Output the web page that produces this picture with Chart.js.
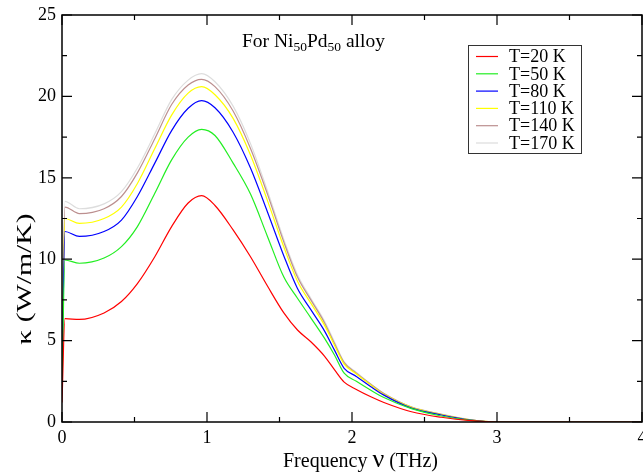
<!DOCTYPE html>
<html>
<head>
<meta charset="utf-8">
<script src="https://cdn.jsdelivr.net/npm/chart.js@4"></script>
<style>
  html, body { margin: 0; padding: 0; background: #fff; }
  #wrap { width: 643px; height: 472px; }
</style>
</head>
<body>
<div id="wrap"><canvas id="kappaChart"></canvas></div>
<script>
// frequency grid (THz)
const freq = [0, 0.02, 0.12, 0.29, 0.41, 0.52, 0.64, 0.756, 0.87, 0.963, 1.055, 1.18, 1.3, 1.417, 1.53, 1.624, 1.716, 1.81, 1.88, 1.946, 2.03, 2.13, 2.22, 2.41, 2.616, 2.82, 3.0, 4.0];

const kT20  = [1.2, 6.35, 6.3, 6.7, 7.4, 8.5, 10.15, 12.0, 13.45, 13.9, 13.3, 11.8, 10.15, 8.35, 6.7, 5.65, 4.93, 4.05, 3.2, 2.45, 2.0, 1.55, 1.2, 0.63, 0.29, 0.08, 0, 0];
const kT50  = [2.0, 9.95, 9.75, 10.07, 10.77, 12.0, 14.05, 16.1, 17.5, 17.98, 17.6, 15.9, 14.0, 11.4, 8.9, 7.6, 6.4, 5.15, 4.1, 3.0, 2.5, 1.95, 1.5, 0.82, 0.37, 0.1, 0, 0];
const kT80  = [2.5, 11.7, 11.4, 11.7, 12.4, 13.85, 15.9, 17.9, 19.27, 19.74, 19.3, 17.8, 15.6, 12.9, 10.2, 8.2, 6.9, 5.6, 4.4, 3.3, 2.8, 2.17, 1.65, 0.85, 0.43, 0.12, 0, 0];
const kT110 = [2.8, 12.5, 12.2, 12.5, 13.2, 14.65, 16.8, 18.85, 20.2, 20.6, 20.1, 18.65, 16.4, 13.6, 10.75, 8.65, 7.3, 5.95, 4.7, 3.55, 2.95, 2.27, 1.7, 0.9, 0.46, 0.13, 0, 0];
const kT140 = [3.0, 13.2, 12.8, 13.1, 13.85, 15.3, 17.4, 19.5, 20.7, 21.05, 20.6, 19.1, 16.8, 14.0, 11.05, 8.9, 7.5, 6.1, 4.8, 3.65, 3.0, 2.32, 1.75, 0.92, 0.47, 0.13, 0, 0];
const kT170 = [3.2, 13.55, 13.1, 13.4, 14.15, 15.6, 17.7, 19.8, 21.0, 21.4, 20.9, 19.4, 17.1, 14.2, 11.2, 9.05, 7.6, 6.2, 4.9, 3.7, 3.05, 2.32, 1.75, 0.93, 0.48, 0.14, 0, 0];

const seriesLabels = ['T=20 K', 'T=50 K', 'T=80 K', 'T=110 K', 'T=140 K', 'T=170 K'];
const seriesValues = [kT20, kT50, kT80, kT110, kT140, kT170];
const seriesColors = ['#ff0000', '#22ee22', '#0000ff', '#ffff00', '#bc8f8f', '#dddddd'];

const xTicks = [0, 1, 2, 3, 4];
const yTicks = [0, 5, 10, 15, 20, 25];

const SERIF = "'Liberation Serif', 'DejaVu Serif', serif";

// frame + inward ticks on all four sides, then the texts and the boxed legend
const framePlugin = {
    id: 'frame',
    afterDatasetsDraw(chart) {
        const { ctx, chartArea: a, scales } = chart;
        const xs = scales.x, ys = scales.y;
        ctx.save();
        ctx.strokeStyle = '#000';
        ctx.lineWidth = 1.5;
        ctx.strokeRect(a.left, a.top, a.right - a.left, a.bottom - a.top);
        ctx.lineWidth = 1.2;
        ctx.beginPath();
        for (let v = 0; v <= 4.001; v += 0.5) {
            const px = xs.getPixelForValue(v);
            const len = Math.abs(v - Math.round(v)) < 1e-6 ? 10 : 5;
            ctx.moveTo(px, a.bottom); ctx.lineTo(px, a.bottom - len);
            ctx.moveTo(px, a.top); ctx.lineTo(px, a.top + len);
        }
        for (let v = 0; v <= 25.001; v += 2.5) {
            const py = ys.getPixelForValue(v);
            const len = Math.abs(v / 5 - Math.round(v / 5)) < 1e-6 ? 10 : 5;
            ctx.moveTo(a.left, py); ctx.lineTo(a.left + len, py);
            ctx.moveTo(a.right, py); ctx.lineTo(a.right - len, py);
        }
        ctx.stroke();
        ctx.restore();
    },
    afterDraw(chart) {
        const { ctx } = chart;
        ctx.save();
        ctx.fillStyle = '#000';
        ctx.textBaseline = 'alphabetic';
        ctx.textAlign = 'left';

        // title with subscripts
        let x = 242;
        const by = 47;
        [['For Ni', 19.5, 0], ['50', 13.5, 4], ['Pd', 19.5, 0], ['50', 13.5, 4], [' alloy', 19.5, 0]].forEach(([t, s, dy]) => {
            ctx.font = s + 'px ' + SERIF;
            ctx.fillText(t, x, by + dy);
            x += ctx.measureText(t).width;
        });

        // x axis title
        x = 283;
        const xb = 467;
        [['Frequency ', 20], ['\u03bd', 26], [' (THz)', 20]].forEach(([t, s]) => {
            ctx.font = s + 'px ' + SERIF;
            ctx.fillText(t, x, xb);
            x += ctx.measureText(t).width;
        });

        // y axis title, a little stretched to the length seen in the picture
        ctx.translate(31, 279);
        ctx.rotate(-Math.PI / 2);
        ctx.font = '22px ' + SERIF;
        ctx.textAlign = 'center';
        const yTitle = '\u03ba (W/m/K)';
        const w = ctx.measureText(yTitle).width;
        ctx.scale(Math.min(1.35, 142 / w), 1);
        ctx.fillText(yTitle, 0, 0);
        ctx.restore();

        // legend box
        ctx.save();
        ctx.fillStyle = '#fff';
        ctx.fillRect(468, 45, 113, 108);
        ctx.strokeStyle = '#333';
        ctx.lineWidth = 1;
        ctx.strokeRect(468.5, 45.5, 113, 108);
        ctx.font = '18px ' + SERIF;
        ctx.textBaseline = 'middle';
        ctx.textAlign = 'left';
        chart.data.datasets.forEach((ds, i) => {
            const yy = 56.5 + i * 17.3;
            ctx.strokeStyle = ds.borderColor;
            ctx.lineWidth = 1.2;
            ctx.beginPath();
            ctx.moveTo(476, yy); ctx.lineTo(498, yy);
            ctx.stroke();
            ctx.fillStyle = '#000';
            ctx.fillText(ds.label, 509, yy + 1);
        });
        ctx.restore();
    }
};

function buildDatasets() {
    return seriesLabels.map((label, i) => ({
        label: label,
        data: freq.map((f, j) => ({ x: f, y: seriesValues[i][j] })),
        borderColor: seriesColors[i],
        borderWidth: 1.2,
        pointRadius: 0,
        fill: false,
        cubicInterpolationMode: 'monotone'
    }));
}

document.addEventListener('DOMContentLoaded', () => {
    new Chart(document.getElementById('kappaChart'), {
        type: 'line',
        data: { datasets: buildDatasets() },
        options: {
            responsive: true,
            maintainAspectRatio: false,
            animation: false,
            layout: { padding: { top: 15, right: 1, left: 0, bottom: 0 } },
            plugins: { legend: { display: false }, tooltip: { enabled: false } },
            scales: {
                x: {
                    type: 'linear',
                    min: 0, max: 4,
                    grid: { display: false, drawTicks: false },
                    border: { display: false },
                    afterBuildTicks: (s) => { s.ticks = xTicks.map(v => ({ value: v })); },
                    ticks: { color: '#000', font: { family: SERIF, size: 18 }, padding: 5, maxRotation: 0 },
                    afterFit: (s) => { s.height = 50; s.paddingLeft = 0; s.paddingRight = 0; }
                },
                y: {
                    min: 0, max: 25,
                    grid: { display: false, drawTicks: false },
                    border: { display: false },
                    afterBuildTicks: (s) => { s.ticks = yTicks.map(v => ({ value: v })); },
                    ticks: { color: '#000', font: { family: SERIF, size: 18 }, padding: 6 },
                    afterFit: (s) => { s.width = 62; s.paddingTop = 0; s.paddingBottom = 0; }
                }
            }
        },
        plugins: [framePlugin]
    });
});
</script>
</body>
</html>
